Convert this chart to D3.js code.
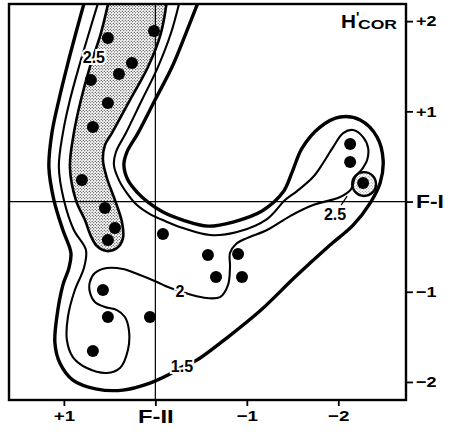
<!DOCTYPE html>
<html>
<head>
<meta charset="utf-8">
<script src="https://cdnjs.cloudflare.com/ajax/libs/d3/7.8.5/d3.min.js"></script>
<style>
  body { margin: 0; background: #fff; }
  svg text { font-family: "Liberation Sans", Arial, Helvetica, sans-serif; font-weight: bold; fill: #000; }
</style>
</head>
<body>
<div id="chart"></div>
<script>
// sample scores: F-II runs across (reversed), F-I runs up
var dotF2 = [0.519, 0.015, 0.256, 0.398, 0.705, 0.519, 0.683, 0.803, 0.551, 0.442, 0.519,
             -0.083, -0.575, -0.663, -0.904, -0.947, 0.573, 0.519, 0.059, 0.683,
             -2.129, -2.129, -2.271];
var dotF1 = [1.813, 1.890, 1.535, 1.414, 1.347, 1.092, 0.826, 0.238, -0.072, -0.294, -0.427,
             -0.360, -0.593, -0.837, -0.582, -0.837, -0.981, -1.280, -1.280, -1.657,
             0.637, 0.438, 0.205];

// H'cor contour lines, [F-II, F-I] pairs
var contour15 = [[0.770,2.234],[0.869,1.868],[0.967,1.491],[1.055,1.125],[1.131,0.759],[1.164,0.382],
  [1.109,0.017],[1.011,-0.316],[0.923,-0.571],[0.945,-0.737],[1.011,-0.926],[1.077,-1.280],
  [1.098,-1.569],[1.044,-1.790],[0.902,-1.979],[0.639,-2.079],[0.354,-2.090],[0.059,-2.012],
  [-0.138,-1.923],[-0.291,-1.835],[-0.455,-1.757],[-0.794,-1.502],[-1.155,-1.203],[-1.527,-0.837],
  [-1.910,-0.482],[-2.162,-0.261],[-2.348,-0.017],[-2.457,0.205],[-2.490,0.460],[-2.424,0.715],
  [-2.239,0.904],[-2.020,0.937],[-1.801,0.826],[-1.604,0.593],[-1.495,0.327],[-1.396,0.105],
  [-1.166,-0.105],[-0.849,-0.227],[-0.575,-0.272],[-0.302,-0.205],[-0.083,-0.116],[0.081,-0.006],
  [0.201,0.105],[0.300,0.238],[0.344,0.405],[0.311,0.549],[0.190,0.759],[0.004,1.125],
  [-0.182,1.491],[-0.335,1.868],[-0.477,2.234]];

var contour20 = [[0.617,2.234],[0.726,1.868],[0.836,1.491],[0.934,1.125],[1.011,0.759],[1.055,0.382],
  [1.000,0.017],[0.891,-0.316],[0.759,-0.538],[0.781,-0.737],[0.880,-0.981],[0.956,-1.280],
  [0.967,-1.535],[0.902,-1.724],[0.748,-1.846],[0.530,-1.901],[0.387,-1.846],[0.300,-1.646],
  [0.289,-1.425],[0.333,-1.280],[0.420,-1.203],[0.551,-1.170],[0.661,-1.114],[0.716,-1.003],
  [0.716,-0.892],[0.661,-0.793],[0.530,-0.737],[0.354,-0.748],[0.168,-0.815],[-0.018,-0.892],
  [-0.138,-0.948],[-0.269,-0.992],[-0.400,-1.037],[-0.565,-1.070],[-0.707,-1.059],[-0.794,-0.926],
  [-0.816,-0.726],[-0.816,-0.571],[-0.882,-0.471],[-1.002,-0.405],[-1.221,-0.316],[-1.473,-0.161],
  [-1.724,-0.039],[-2.020,0.050],[-2.140,0.139],[-2.184,0.272],[-2.260,0.360],[-2.315,0.460],
  [-2.326,0.593],[-2.271,0.715],[-2.162,0.793],[-2.053,0.759],[-1.943,0.604],[-1.834,0.427],
  [-1.724,0.272],[-1.549,0.116],[-1.418,0.017],[-1.221,-0.194],[-0.893,-0.338],[-0.597,-0.371],
  [-0.302,-0.294],[-0.105,-0.216],[0.059,-0.139],[0.201,-0.039],[0.311,0.094],[0.398,0.238],
  [0.453,0.405],[0.431,0.549],[0.322,0.759],[0.147,1.125],[-0.028,1.491],[-0.171,1.868],
  [-0.269,2.234]];

var contour25 = [[0.508,2.234],[0.595,1.868],[0.716,1.491],[0.814,1.125],[0.891,0.759],[0.934,0.382],
  [0.869,0.017],[0.770,-0.205],[0.705,-0.382],[0.639,-0.493],[0.530,-0.549],[0.420,-0.516],
  [0.354,-0.405],[0.365,-0.227],[0.442,0.017],[0.530,0.261],[0.573,0.460],[0.551,0.626],
  [0.475,0.759],[0.278,1.125],[0.081,1.491],[-0.061,1.868],[-0.127,2.234]];

// small 2.5 peak in the right lobe
var peakF2 = -2.282, peakF1 = 0.194, peakR = 0.13;
var leaderF2 = [-2.031, -2.096], leaderF1 = [-0.039, 0.061];

var levelLabels = ["2.5", "2", "1.5", "2.5"];
var labelF2 = [0.672, -0.269, -0.291, -1.965];
var labelF1 = [1.602, -0.992, -1.824, -0.139];

var f2Ticks = [1, 0, -1, -2];
var f2TickLabels = ["+1", "F-II", "\u22121", "\u22122"];
var f1Ticks = [2, 1, 0, -1, -2];
var f1TickLabels = ["+2", "+1", "F-I", "\u22121", "\u22122"];

var W = 456, H = 440;
var frame = {left: 9, top: 4, right: 406, bottom: 400};

var x = d3.scaleLinear().domain([1.6, -2.74]).range([frame.left, frame.right]);
var y = d3.scaleLinear().domain([2.19, -2.2]).range([frame.top, frame.bottom]);

var svg = d3.select("#chart").append("svg")
    .attr("width", W)
    .attr("height", H);

var defs = svg.append("defs");
defs.append("clipPath").attr("id", "clip")
  .append("rect")
    .attr("x", frame.left).attr("y", frame.top)
    .attr("width", frame.right - frame.left)
    .attr("height", frame.bottom - frame.top);

var pat = defs.append("pattern")
    .attr("id", "stipple")
    .attr("patternUnits", "userSpaceOnUse")
    .attr("width", 3).attr("height", 3);
pat.append("circle").attr("cx", 0.75).attr("cy", 0.75).attr("r", 0.6);
pat.append("circle").attr("cx", 2.25).attr("cy", 2.25).attr("r", 0.6);

var line = d3.line()
    .x(function(d) { return x(d[0]); })
    .y(function(d) { return y(d[1]); })
    .curve(d3.curveCatmullRom.alpha(0.5));

var plot = svg.append("g").attr("clip-path", "url(#clip)");

// stippled 2.5 region
plot.append("path")
    .attr("d", line(contour25) + "Z")
    .attr("fill", "url(#stipple)");
plot.append("circle")
    .attr("cx", x(peakF2)).attr("cy", y(peakF1))
    .attr("r", x(0) - x(peakR))
    .attr("fill", "url(#stipple)")
    .attr("fill-opacity", 0.5);

// factor axes through the origin
plot.append("line")
    .attr("x1", frame.left).attr("x2", frame.right)
    .attr("y1", y(0)).attr("y2", y(0))
    .attr("stroke", "#000").attr("stroke-width", 1.2);
plot.append("line")
    .attr("x1", x(0)).attr("x2", x(0))
    .attr("y1", frame.top).attr("y2", frame.bottom)
    .attr("stroke", "#000").attr("stroke-width", 1.2);

// contour strokes
var contours = [
  {pts: contour15, w: 3.4},
  {pts: contour20, w: 2.1},
  {pts: contour25, w: 2.6}
];
plot.selectAll("path.contour")
  .data(contours)
  .enter().append("path")
    .attr("class", "contour")
    .attr("d", function(d) { return line(d.pts); })
    .attr("fill", "none")
    .attr("stroke", "#000")
    .attr("stroke-width", function(d) { return d.w; })
    .attr("stroke-linejoin", "round");

plot.append("circle")
    .attr("cx", x(peakF2)).attr("cy", y(peakF1))
    .attr("r", x(0) - x(peakR))
    .attr("fill", "none")
    .attr("stroke", "#000").attr("stroke-width", 2.4);

plot.append("line")
    .attr("x1", x(leaderF2[0])).attr("y1", y(leaderF1[0]))
    .attr("x2", x(leaderF2[1])).attr("y2", y(leaderF1[1]))
    .attr("stroke", "#000").attr("stroke-width", 1.2);

// samples
plot.selectAll("circle.dot")
  .data(dotF2)
  .enter().append("circle")
    .attr("class", "dot")
    .attr("cx", function(d) { return x(d); })
    .attr("cy", function(d, i) { return y(dotF1[i]); })
    .attr("r", 6)
    .attr("fill", "#000");

// contour level labels
plot.selectAll("text.level")
  .data(levelLabels)
  .enter().append("text")
    .attr("class", "level")
    .attr("x", function(d, i) { return x(labelF2[i]); })
    .attr("y", function(d, i) { return y(labelF1[i]); })
    .attr("dy", "0.36em")
    .attr("text-anchor", "middle")
    .attr("font-size", 16)
    .attr("stroke", "#fff")
    .attr("stroke-width", 4)
    .attr("paint-order", "stroke")
    .text(function(d) { return d; });

// frame
svg.append("rect")
    .attr("x", frame.left).attr("y", frame.top)
    .attr("width", frame.right - frame.left)
    .attr("height", frame.bottom - frame.top)
    .attr("fill", "none")
    .attr("stroke", "#000")
    .attr("stroke-width", 2.4);

// widen bold glyphs a bit, the printed face is broad
function widen(sel, k) {
  sel.each(function() {
    var w = this.getComputedTextLength();
    d3.select(this).attr("textLength", w * k).attr("lengthAdjust", "spacingAndGlyphs");
  });
}

var xAxis = svg.append("g")
    .attr("transform", "translate(0," + frame.bottom + ")")
    .call(d3.axisBottom(x).tickValues(f2Ticks).tickSize(6).tickPadding(4)
      .tickFormat(function(d, i) { return f2TickLabels[i]; }));
xAxis.select(".domain").remove();
xAxis.selectAll("line").attr("stroke-width", 1.8);
xAxis.selectAll("text")
    .attr("font-size", function(d) { return d === 0 ? 19 : 15; });
widen(xAxis.selectAll("text"), 1.25);

var yAxis = svg.append("g")
    .attr("transform", "translate(" + frame.right + ",0)")
    .call(d3.axisRight(y).tickValues(f1Ticks).tickSize(7).tickPadding(3)
      .tickFormat(function(d, i) { return f1TickLabels[i]; }));
yAxis.select(".domain").remove();
yAxis.selectAll("line").attr("stroke-width", 1.8);
yAxis.selectAll("text")
    .attr("font-size", function(d) { return d === 0 ? 19 : 15; });
widen(yAxis.selectAll("text"), 1.2);

// H'cor title
svg.append("text").attr("x", 341).attr("y", 28).attr("font-size", 19)
    .attr("textLength", 15).attr("lengthAdjust", "spacingAndGlyphs").text("H");
svg.append("text").attr("x", 356).attr("y", 22).attr("font-size", 14).text("'");
svg.append("text").attr("x", 358).attr("y", 29).attr("font-size", 13)
    .attr("textLength", 39).attr("lengthAdjust", "spacingAndGlyphs")
    .text("COR");
</script>
</body>
</html>
